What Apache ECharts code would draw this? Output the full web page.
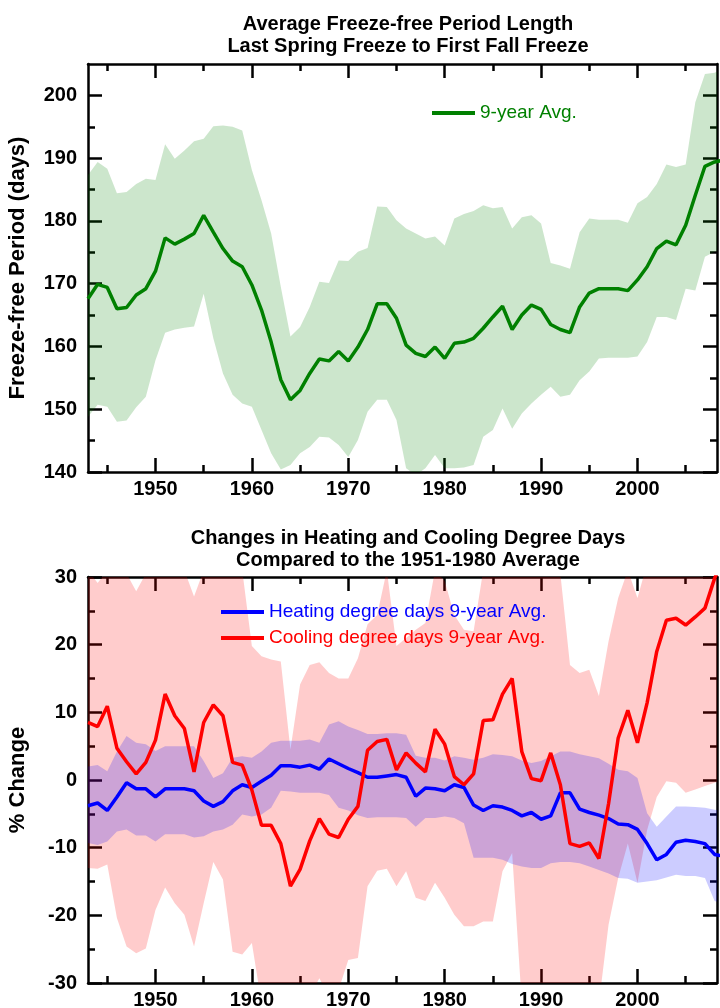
<!DOCTYPE html>
<html>
<head>
<meta charset="utf-8">
<script src="https://cdn.jsdelivr.net/npm/echarts@6.0.0/dist/echarts.min.js"></script>
<style>
html, body { margin: 0; padding: 0; background: #fff; }
#chart { width: 720px; height: 1008px; }
</style>
</head>
<body>
<div id="chart"></div>
<script>
// years of the 9-year running averages
const years = [
  1943, 1944, 1945, 1946, 1947, 1948, 1949, 1950, 1951, 1952,
  1953, 1954, 1955, 1956, 1957, 1958, 1959, 1960, 1961, 1962,
  1963, 1964, 1965, 1966, 1967, 1968, 1969, 1970, 1971, 1972,
  1973, 1974, 1975, 1976, 1977, 1978, 1979, 1980, 1981, 1982,
  1983, 1984, 1985, 1986, 1987, 1988, 1989, 1990, 1991, 1992,
  1993, 1994, 1995, 1996, 1997, 1998, 1999, 2000, 2001, 2002,
  2003, 2004, 2005, 2006, 2007, 2008, 2009
]

// freeze-free period (days)
const freezeAvg = [
  167.6, 169.9, 169.4, 166.0, 166.2, 168.2, 169.2, 172.0, 177.3, 176.3,
  177.1, 178.0, 180.9, 178.2, 175.6, 173.6, 172.7, 169.8, 165.8, 160.7,
  154.7, 151.5, 153.0, 155.7, 158.0, 157.7, 159.2, 157.7, 159.9, 162.7,
  166.8, 166.8, 164.5, 160.2, 158.9, 158.4, 159.9, 158.1, 160.5, 160.7,
  161.3, 162.9, 164.7, 166.4, 162.7, 165.0, 166.6, 165.9, 163.5, 162.7,
  162.2, 166.3, 168.5, 169.2, 169.2, 169.2, 168.9, 170.6, 172.7, 175.6,
  176.8, 176.2, 179.3, 184.1, 188.7, 189.4, 189.7
]
const freezeHi = [
  187.3, 189.4, 188.3, 184.4, 184.6, 185.9, 186.7, 186.5, 192.2, 189.9,
  191.2, 192.7, 193.1, 195.1, 195.2, 195.0, 194.4, 188.1, 183.3, 178.0,
  169.5, 161.6, 163.1, 166.3, 170.3, 170.1, 173.7, 173.6, 175.1, 175.7,
  182.3, 182.2, 180.1, 178.8, 178.0, 177.2, 177.5, 176.1, 180.4, 181.1,
  181.6, 182.5, 182.0, 182.2, 178.8, 180.6, 180.9, 179.6, 173.3, 172.9,
  172.4, 178.2, 180.4, 180.2, 180.2, 180.2, 179.7, 182.8, 183.8, 185.9,
  189.0, 188.6, 189.0, 198.9, 203.4, 203.6, 204.5
]
const freezeLo = [
  148.8, 150.7, 150.4, 148.0, 148.2, 150.3, 152.0, 157.8, 162.2, 162.7,
  163.0, 163.2, 168.4, 161.3, 155.7, 152.3, 150.9, 150.4, 146.7, 143.0,
  140.4, 141.1, 143.0, 144.0, 145.6, 145.5, 144.3, 142.4, 145.1, 149.6,
  151.5, 151.5, 148.3, 140.6, 139.5, 140.6, 142.7, 140.6, 140.6, 140.7,
  141.1, 145.6, 146.7, 150.1, 146.9, 149.3, 150.9, 152.3, 153.6, 152.0,
  152.3, 154.6, 156.0, 158.1, 158.2, 158.2, 158.2, 158.4, 160.7, 164.7,
  164.7, 164.2, 169.2, 168.9, 174.3, 175.1, 175.5
]

// heating degree days, % change vs 1951-1980
const heatAvg = [
  -3.8, -3.4, -4.5, -2.5, -0.4, -1.3, -1.3, -2.5, -1.3, -1.3,
  -1.3, -1.6, -3.1, -3.9, -3.2, -1.6, -0.7, -1.1, -0.2, 0.7,
  2.1, 2.1, 1.9, 2.2, 1.6, 3.1, 2.4, 1.7, 1.1, 0.4,
  0.4, 0.6, 0.8, 0.4, -2.4, -1.2, -1.3, -1.6, -0.7, -1.1,
  -3.7, -4.5, -3.8, -4.0, -4.5, -5.3, -4.8, -5.8, -5.3, -1.9,
  -1.9, -4.3, -4.8, -5.2, -5.7, -6.5, -6.6, -7.3, -9.4, -11.8,
  -11.0, -9.2, -8.9, -9.1, -9.4, -11.0, -11.3
]
const heatHi = [
  2.0, 2.2, 1.3, 4.2, 6.5, 5.5, 5.3, 4.3, 5.0, 5.0,
  5.0, 5.0, 2.8, 0.3, 1.0, 3.3, 3.5, 3.3, 4.2, 5.5,
  5.8, 5.8, 5.8, 6.0, 5.5, 8.2, 8.7, 7.9, 7.4, 6.8,
  6.8, 6.9, 6.9, 6.7, 3.6, 3.3, 3.3, 2.9, 3.5, 3.3,
  3.0, 3.3, 3.8, 3.7, 3.5, 2.9, 2.5, 2.8, 3.5, 4.2,
  4.2, 3.8, 3.5, 3.2, 2.4, 1.5, 1.3, 0.3, -4.9, -6.9,
  -5.4, -3.9, -3.9, -4.0, -4.1, -4.4, -4.5
]
const heatLo = [
  -9.3, -9.6, -9.1, -7.6, -7.3, -8.2, -8.2, -9.1, -8.0, -8.0,
  -8.0, -8.5, -8.3, -7.6, -7.3, -6.6, -5.1, -5.4, -5.1, -4.1,
  -1.6, -1.7, -1.9, -1.9, -1.9, -2.2, -4.1, -4.5, -5.2, -5.6,
  -5.5, -5.5, -5.5, -5.6, -6.9, -5.6, -5.6, -5.4, -5.6, -6.4,
  -11.5, -11.5, -11.5, -11.8, -12.4, -12.8, -13.0, -13.0, -12.3, -12.1,
  -12.1, -12.3, -12.8, -13.3, -13.8, -14.5, -14.6, -15.2, -15.0, -14.8,
  -14.4, -14.0, -14.2, -14.2, -14.5, -17.9, -18.2
]

// cooling degree days, % change vs 1951-1980
const coolAvg = [
  8.5, 7.9, 10.9, 4.7, 2.7, 0.9, 2.6, 5.9, 12.7, 9.5,
  7.6, 1.2, 8.5, 11.1, 9.5, 2.6, 2.2, -1.5, -6.7, -6.7,
  -9.4, -15.7, -13.2, -9.0, -5.7, -8.0, -8.5, -5.8, -3.9, 4.4,
  5.7, 6.0, 1.5, 4.0, 2.5, 1.2, 7.5, 5.3, 0.5, -0.7,
  0.9, 8.8, 8.9, 12.7, 15.0, 4.2, 0.2, -0.1, 4.0, -0.7,
  -9.4, -9.8, -9.3, -11.6, -3.5, 6.2, 10.3, 5.5, 11.4, 19.0,
  23.6, 23.9, 22.9, 24.1, 25.4, 29.8, 33.0
]
const coolHi = [
  31, 29.1, 31, 31, 30.5, 27.9, 30.5, 31, 31, 31,
  31, 27.1, 31, 31, 31, 31, 31, 19.8, 18.3, 17.8,
  17.5, 4.5, 14.1, 17.0, 17.4, 15.8, 15.0, 15.0, 18.0, 23.0,
  24.4, 31, 19.8, 21.0, 22.2, 23.2, 31, 29.4, 24.4, 22.2,
  22.0, 31, 32, 32, 32, 32, 32, 32, 32, 30.5,
  17.0, 15.8, 16.3, 12.4, 20.5, 26.9, 31, 26.9, 32, 35,
  40, 40, 40, 40, 40, 45, 45
]
const coolLo = [
  -13.0, -13.1, -12.5, -20.4, -24.6, -25.6, -24.9, -19.2, -15.9, -18.2,
  -19.9, -24.6, -18.2, -12.1, -14.7, -25.4, -25.8, -24.1, -33, -35,
  -35, -35, -33, -32, -29.3, -32, -31, -26.6, -26.3, -15.7,
  -13.4, -13.1, -15.7, -13.5, -17.4, -17.9, -15.2, -17.4, -19.9, -21.6,
  -21.6, -20.9, -20.9, -13.5, -10.8, -33, -35, -35, -35, -35,
  -35, -35, -35, -33, -21.4, -14.5, -9.4, -15.2, -7.4, -2.5,
  -0.2, -0.4, -1.9, -1.4, -0.9, -0.4, 0.0
]

// ticks
const xMajor = [1950, 1960, 1970, 1980, 1990, 2000]
const xMinor = [1945, 1955, 1965, 1975, 1985, 1995, 2005]
const freezeMajor = [140, 150, 160, 170, 180, 190, 200]
const freezeMinor = [145, 155, 165, 175, 185, 195]
const pctMajor = [-30, -20, -10, 0, 10, 20, 30]
const pctMinor = [-25, -15, -5, 5, 15, 25]

const FONT = '"Liberation Sans", Arial, Helvetica, sans-serif'
const X_MIN = 1943
const X_MAX = 2008.25

const pairs = vals => years.map((y, i) => [y, vals[i]])

const axisLine = { show: true, onZero: false, lineStyle: { color: '#000', width: 2.5 } }
const noLine = { show: false, onZero: false }
const tick = (vals, len) => ({
  show: true, inside: true, length: len, customValues: vals,
  lineStyle: { color: '#000', width: 2.5 }
})
const labelStyle = {
  color: '#000', fontSize: 20, fontWeight: 'bold', fontFamily: FONT,
  formatter: v => String(v)
}

function makeX(grid) {
  const base = { type: 'value', gridIndex: grid, min: X_MIN, max: X_MAX, splitLine: { show: false } }
  return [
    { ...base, position: 'bottom', axisLine, axisTick: tick(xMajor, 14),
      axisLabel: { ...labelStyle, customValues: xMajor, margin: 7 } },
    { ...base, position: 'bottom', axisLine: noLine, axisTick: tick(xMinor, 7), axisLabel: { show: false } },
    { ...base, position: 'top', axisLine, axisTick: tick(xMajor, 14), axisLabel: { show: false } },
    { ...base, position: 'top', axisLine: noLine, axisTick: tick(xMinor, 7), axisLabel: { show: false } }
  ]
}

function makeY(grid, min, max, major, minor, name) {
  const base = { type: 'value', gridIndex: grid, min, max, splitLine: { show: false } }
  return [
    { ...base, position: 'left', axisLine, axisTick: tick(major, 14),
      axisLabel: { ...labelStyle, customValues: major, margin: 11 },
      name, nameLocation: 'middle', nameGap: 59,
      nameTextStyle: { color: '#000', fontSize: 22, fontWeight: 'bold', fontFamily: FONT } },
    { ...base, position: 'left', axisLine: noLine, axisTick: tick(minor, 7), axisLabel: { show: false } },
    { ...base, position: 'right', axisLine, axisTick: tick(major, 14), axisLabel: { show: false } },
    { ...base, position: 'right', axisLine: noLine, axisTick: tick(minor, 7), axisLabel: { show: false } }
  ]
}

// shaded range between lo and hi, drawn as one polygon through the axes
function band(axis, hi, lo, color) {
  return {
    type: 'custom', xAxisIndex: axis, yAxisIndex: axis, clip: true, silent: true,
    data: pairs(lo),
    renderItem(params, api) {
      if (params.dataIndex !== 0) return null
      const top = years.map((y, i) => api.coord([y, hi[i]]))
      const bottom = years.map((y, i) => api.coord([y, lo[i]])).reverse()
      return { type: 'polygon', shape: { points: top.concat(bottom) }, style: { fill: color } }
    }
  }
}

function avgLine(axis, name, vals, color) {
  return {
    type: 'line', name, xAxisIndex: axis, yAxisIndex: axis, data: pairs(vals),
    symbol: 'none', itemStyle: { color }, lineStyle: { color, width: 3.5 }
  }
}

const titleStyle = { color: '#000', fontSize: 20, fontWeight: 'bold', lineHeight: 22, fontFamily: FONT }
const legendBase = {
  icon: 'rect', itemWidth: 43, itemHeight: 4, itemGap: 6, selectedMode: false,
  textStyle: { fontSize: 19, lineHeight: 20, fontFamily: FONT }
}

const option = {
  animation: false,
  backgroundColor: '#fff',
  title: [
    { text: 'Average Freeze-free Period Length\nLast Spring Freeze to First Fall Freeze',
      left: 403, top: 8, textAlign: 'center', textStyle: titleStyle },
    { text: 'Changes in Heating and Cooling Degree Days\nCompared to the 1951-1980 Average',
      left: 403, top: 522, textAlign: 'center', textStyle: titleStyle }
  ],
  legend: [
    { ...legendBase, left: 427, top: 98,
      data: [{ name: '9-year Avg.', textStyle: { color: '#008000' } }] },
    { ...legendBase, left: 216, top: 597, orient: 'vertical',
      data: [
        { name: 'Heating degree days 9-year Avg.', textStyle: { color: '#0000ff' } },
        { name: 'Cooling degree days 9-year Avg.', textStyle: { color: '#ff0000' } }
      ] }
  ],
  grid: [
    { left: 88, top: 64, width: 629, height: 408, outerBoundsMode: 'none' },
    { left: 88, top: 577, width: 629, height: 406, outerBoundsMode: 'none' }
  ],
  xAxis: [...makeX(0), ...makeX(1)],
  yAxis: [
    ...makeY(0, 140, 205, freezeMajor, freezeMinor, 'Freeze-free Period (days)'),
    ...makeY(1, -30, 30, pctMajor, pctMinor, '% Change')
  ],
  series: [
    band(0, freezeHi, freezeLo, 'rgba(0,128,0,0.2)'),
    avgLine(0, '9-year Avg.', freezeAvg, '#008000'),
    band(4, coolHi, coolLo, 'rgba(255,0,0,0.2)'),
    band(4, heatHi, heatLo, 'rgba(0,0,255,0.2)'),
    avgLine(4, 'Heating degree days 9-year Avg.', heatAvg, '#0000ff'),
    avgLine(4, 'Cooling degree days 9-year Avg.', coolAvg, '#ff0000')
  ]
}

const chart = echarts.init(document.getElementById('chart'), null, { renderer: 'canvas' })
chart.setOption(option)
</script>
</body>
</html>
